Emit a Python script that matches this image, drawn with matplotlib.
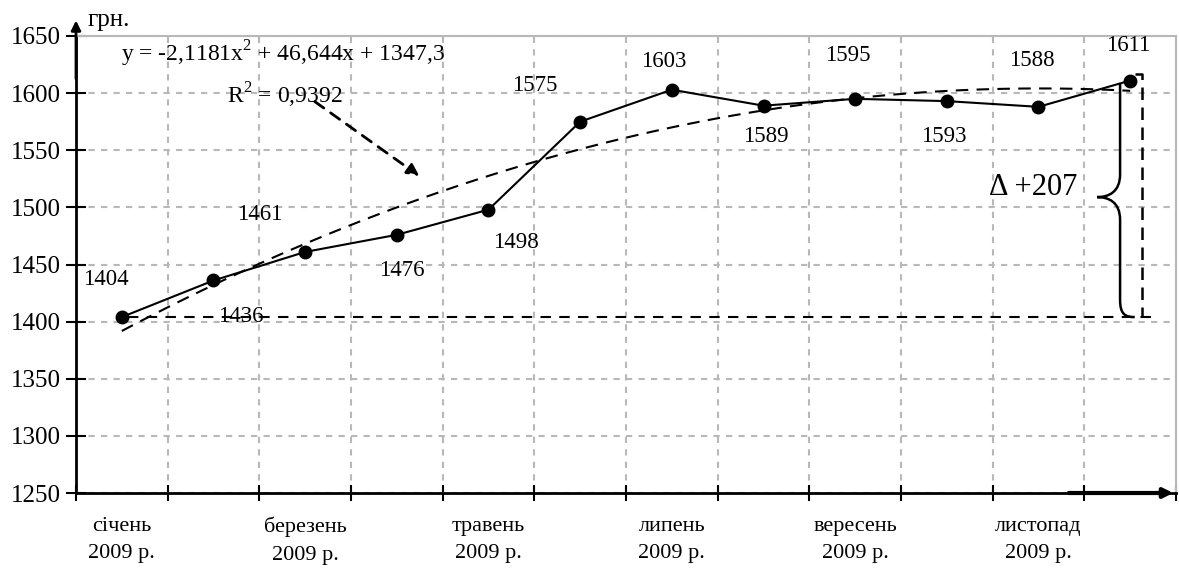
import numpy as np
import matplotlib
matplotlib.use("Agg")
import matplotlib.pyplot as plt
from matplotlib.path import Path
from matplotlib.patches import PathPatch

plt.rcParams['font.family'] = ['Liberation Serif', 'DejaVu Serif']
plt.rcParams['mathtext.fontset'] = 'custom'
plt.rcParams['mathtext.rm'] = 'Liberation Serif'

# monthly values, Jan..Dec 2009
months = ["січень", "лютий", "березень", "квітень", "травень", "червень",
          "липень", "серпень", "вересень", "жовтень", "листопад", "грудень"]
values = [1404, 1436, 1461, 1476, 1498, 1575, 1603, 1589, 1595, 1593, 1588, 1611]
# quadratic trend shown on the chart (x = 1..12)
trend_coefs = [-2.1181, 46.644, 1347.3]
r2 = "0,9392"
delta = values[-1] - values[0]

# label offsets in pixels (dx, dy), dy positive = up
label_off = [(-16, 38), (27, -36), (-45, 37), (5, -36), (27, -33), (-45, 36),
             (-8, 28), (2, -31), (-7, 43), (-3, -35), (-7, 46), (-2, 35)]

fig = plt.figure(figsize=(11.79, 5.70), dpi=100)
ax = fig.add_axes([76/1179, 77/570, 1100/1179, 457/570])

x = np.arange(len(values))
ax.set_xlim(-0.5, 11.5)
ax.set_ylim(1250, 1650)

# grid and ticks
ax.set_yticks(np.arange(1250, 1651, 50))
ax.set_xticks(np.arange(-0.5, 11.6, 1))
ax.set_xticklabels([])
ax.set_xticks(x[::2], minor=True)
ax.set_xticklabels([m + "\n2009 р." for m in months[::2]], minor=True)
ax.grid(True, color="#b8b8b8", linestyle=(0, (3, 3)), linewidth=1.5)
ax.tick_params(axis="x", which="major", direction="inout", length=12, width=1.5)
ax.tick_params(axis="x", which="minor", length=0, pad=17, labelsize=16)
ax.tick_params(axis="y", direction="inout", length=14, width=1.5, labelsize=18, pad=4)
for lab in ax.get_xticklabels(minor=True):
    lab.set_linespacing(1.6)

for s in ["top", "right"]:
    ax.spines[s].set_color("#b8b8b8")
    ax.spines[s].set_linewidth(1.5)
for s in ["left", "bottom"]:
    ax.spines[s].set_linewidth(2)

# axis arrows
ax.annotate("", xy=(0, 1.04), xytext=(0, 0.9), xycoords="axes fraction",
            arrowprops=dict(arrowstyle="-|>", color="black", lw=2, mutation_scale=14),
            annotation_clip=False)
ax.annotate("", xy=(1.0, 0), xytext=(0.9, 0), xycoords="axes fraction",
            arrowprops=dict(arrowstyle="-|>", color="black", lw=3, mutation_scale=14),
            annotation_clip=False)
ax.text(-0.37, 1664, "грн.", fontsize=18, va="center", ha="left", clip_on=False)

# trend line
xt = np.linspace(0, 11, 100)
ax.plot(xt, np.polyval(trend_coefs, xt + 1), color="black", lw=1.5,
        linestyle=(0, (6, 4)), zorder=3)

# base line at January level
ax.plot([0.07, 11.27], [values[0], values[0]], color="black", lw=1.5,
        linestyle=(0, (5, 4)), zorder=3)

# main series
ax.plot(x, values, color="black", lw=1.5, marker="o", markersize=9, zorder=4)
for xi, v, (dx, dy) in zip(x, values, label_off):
    ax.annotate(str(v), (xi, v), xytext=(dx, dy), textcoords="offset pixels",
                ha="center", va="center", fontsize=16.5)

# equation text and arrow
ax.text(1.76, 1634, r"y = -2,1181x$^{\mathrm{2}}$ + 46,644x + 1347,3",
        ha="center", va="center", fontsize=17)
ax.text(1.78, 1598, r"R$^{\mathrm{2}}$ = " + r2, ha="center", va="center", fontsize=17)
ax.annotate("", xy=(3.27, 1526), xytext=(2.08, 1594),
            arrowprops=dict(arrowstyle="-|>", color="black", lw=2,
                            linestyle=(0, (4, 3)), mutation_scale=18))

# brace showing the change
xb, xtip = 10.89, 10.64
yt, ym, yb = 1609, 1509, values[0]
brace = Path([(xb, yt), (xb, ym + 20), (xb, ym + 4), (xtip + 0.12, ym), (xtip, ym),
              (xtip + 0.12, ym), (xb, ym - 4), (xb, ym - 20), (xb, yb + 15),
              (xb, yb + 2), (xb + 0.06, yb), (11.05, yb)],
             [Path.MOVETO, Path.LINETO, Path.CURVE4, Path.CURVE4, Path.CURVE4,
              Path.CURVE4, Path.CURVE4, Path.CURVE4, Path.LINETO,
              Path.CURVE4, Path.CURVE4, Path.CURVE4])
ax.add_patch(PathPatch(brace, facecolor="none", edgecolor="black", lw=1.8, zorder=5))
ax.plot([11.05, 11.13, 11.13], [1617, 1617, values[0]], color="black", lw=1.8,
        linestyle=(0, (5, 3)), zorder=5)
ax.text(9.94, 1517, "Δ +" + str(delta), ha="center", va="center", fontsize=22)

fig.savefig("out.png", dpi=100)
